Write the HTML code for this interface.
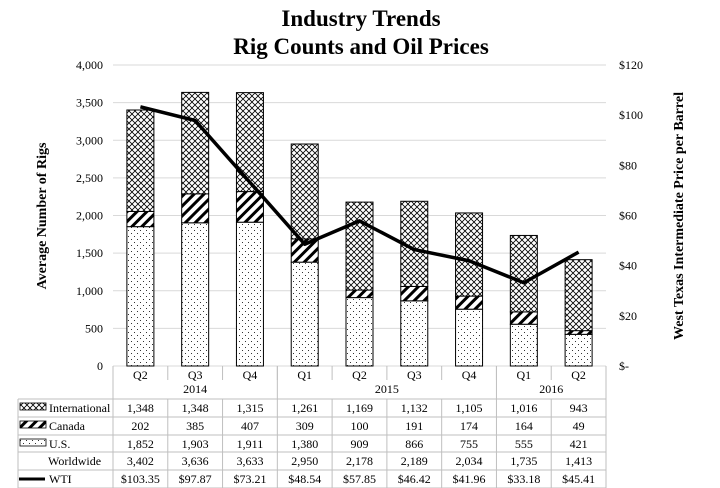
<!DOCTYPE html>
<html><head><meta charset="utf-8"><style>
body{margin:0;background:#fff;}
svg{display:block;font-family:"Liberation Serif",serif;}
</style></head><body>
<svg id="c" width="720" height="488" viewBox="0 0 720 488">
<defs>
<pattern id="pInt" width="6" height="6" patternUnits="userSpaceOnUse"><rect width="6" height="6" fill="#fff"/><path d="M0,0L6,6M6,0L0,6" stroke="#000" stroke-width="0.8"/></pattern>
<pattern id="pCan" width="7" height="7" patternUnits="userSpaceOnUse" patternTransform="rotate(45)"><rect width="7" height="7" fill="#fff"/><rect width="3" height="7" fill="#000"/></pattern>
<pattern id="pUS" width="6" height="6" patternUnits="userSpaceOnUse"><rect width="6" height="6" fill="#fff"/><rect x="2" y="2" width="1" height="1" fill="#333"/><rect x="5" y="5" width="1" height="1" fill="#333"/></pattern>
</defs>
<text x="361" y="26" text-anchor="middle" font-size="23" font-weight="bold">Industry Trends</text>
<text x="361" y="54" text-anchor="middle" font-size="23" font-weight="bold">Rig Counts and Oil Prices</text>
<text transform="translate(46,216) rotate(-90)" text-anchor="middle" font-size="14" font-weight="bold">Average Number of Rigs</text>
<text transform="translate(683,216) rotate(-90)" text-anchor="middle" font-size="14" font-weight="bold">West Texas Intermediate Price per Barrel</text>
<g id="grid"></g><g id="bars"></g><g id="line"></g><g id="table"></g>
</svg>
<script>
const quarters=["Q2","Q3","Q4","Q1","Q2","Q3","Q4","Q1","Q2"];
const years=[["2014",3],["2015",4],["2016",2]];
const intl=[1348,1348,1315,1261,1169,1132,1105,1016,943];
const canada=[202,385,407,309,100,191,174,164,49];
const us=[1852,1903,1911,1380,909,866,755,555,421];
const worldwide=[3402,3636,3633,2950,2178,2189,2034,1735,1413];
const wti=[103.35,97.87,73.21,48.54,57.85,46.42,41.96,33.18,45.41];
const leftTicks=[0,500,1000,1500,2000,2500,3000,3500,4000];
const rightTicks=[0,20,40,60,80,100,120];

const NS="http://www.w3.org/2000/svg";
const L=113,R=606,T=65,B=366,slot=(R-L)/quarters.length;
const yL=v=>B-(v/4000)*(B-T);
const yR=v=>B-(v/120)*(B-T);
const xC=i=>L+slot*(i+0.5);
function mk(p,tag,a,txt){const e=document.createElementNS(NS,tag);for(const k in a)e.setAttribute(k,a[k]);if(txt!=null)e.textContent=txt;p.appendChild(e);return e;}
const g=document.getElementById('grid'),gb=document.getElementById('bars'),gl=document.getElementById('line'),gt=document.getElementById('table');
leftTicks.forEach(v=>{
 const ln=mk(g,'line',{x1:L,x2:R,y1:yL(v),y2:yL(v),stroke:'#d9d9d9','stroke-width':1});
 
 
 const t=mk(g,'text',{x:103,y:yL(v)+4,'text-anchor':'end','font-size':12},v.toLocaleString('en-US'));
 
 
});
rightTicks.forEach(v=>{
 const t=mk(g,'text',{x:619,y:yR(v)+4,'font-size':12},v===0?'$-':'$'+v);
 
 
});
const bw=27;
quarters.forEach((q,i)=>{
 const x=xC(i)-bw/2;
 const segs=[[us[i],0,'pUS','bar-us'],[canada[i],us[i],'pCan','bar-canada'],[intl[i],us[i]+canada[i],'pInt','bar-international']];
 segs.forEach(s=>{
  const r=mk(gb,'rect',{x:x,y:yL(s[1]+s[0]),width:bw,height:yL(s[1])-yL(s[1]+s[0]),fill:'url(#'+s[2]+')',stroke:'#000','stroke-width':1});
  
  
 });
});
const pts=wti.map((v,i)=>xC(i)+','+yR(v)).join(' ');
const pl=mk(gl,'polyline',{points:pts,fill:'none',stroke:'#000','stroke-width':3.5,'stroke-linejoin':'round'});


const rowTops=[399,417,435,452,470,488];
const lc='#bfbfbf';
mk(gt,'line',{x1:L,x2:L,y1:B,y2:488,stroke:lc});
mk(gt,'line',{x1:R,x2:R,y1:B,y2:488,stroke:lc});
mk(gt,'line',{x1:18,x2:18,y1:399,y2:488,stroke:lc});
rowTops.forEach(y=>mk(gt,'line',{x1:18,x2:R,y1:y,y2:y,stroke:lc}));
for(let i=1;i<quarters.length;i++){mk(gt,'line',{x1:L+slot*i,x2:L+slot*i,y1:366,y2:380,stroke:lc});mk(gt,'line',{x1:L+slot*i,x2:L+slot*i,y1:399,y2:488,stroke:lc});}
let acc=0;
years.forEach(([yr,n])=>{
 const cx=L+slot*(acc+n/2);
 const t=mk(gt,'text',{x:cx,y:393,'text-anchor':'middle','font-size':12},yr);
 
 
 acc+=n; if(acc<quarters.length) mk(gt,'line',{x1:L+slot*acc,x2:L+slot*acc,y1:366,y2:399,stroke:lc});
});
quarters.forEach((q,i)=>{
 const t=mk(gt,'text',{x:xC(i),y:379,'text-anchor':'middle','font-size':12},q);
 
 
});
const rows=[["International",intl,v=>v.toLocaleString('en-US'),'pInt'],["Canada",canada,v=>v.toLocaleString('en-US'),'pCan'],["U.S.",us,v=>v.toLocaleString('en-US'),'pUS'],["Worldwide",worldwide,v=>v.toLocaleString('en-US'),null],["WTI",wti,v=>'$'+v.toFixed(2),'line']];
rows.forEach((r,ri)=>{
 const yc=rowTops[ri]+13;
 if(r[3]==='line'){mk(gt,'line',{x1:19,x2:45,y1:yc-4,y2:yc-4,stroke:'#000','stroke-width':3});}
 else if(r[3]){mk(gt,'rect',{x:20,y:yc-9,width:26,height:7,fill:'url(#'+r[3]+')',stroke:'#000','stroke-width':0.8});}
 const lab=mk(gt,'text',{x:r[3]?49:48,y:yc,'font-size':12},r[0]);
 
 
 r[1].forEach((v,i)=>{
  const t=mk(gt,'text',{x:xC(i),y:yc,'text-anchor':'middle','font-size':12},r[2](v));
  
  
 });
});
</script>
</body></html>
